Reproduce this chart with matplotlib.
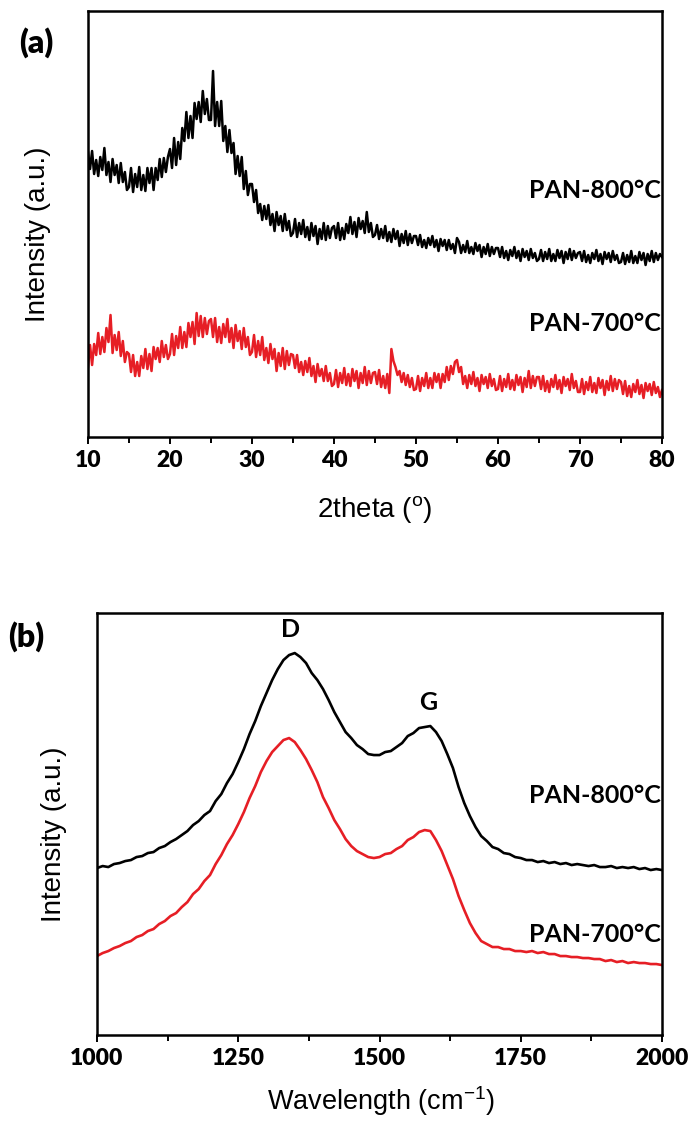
import matplotlib
matplotlib.use("Agg")  # no display available

import numpy as np
import matplotlib.pyplot as plt

plt.rcParams["mathtext.fontset"] = "custom"
plt.rcParams["mathtext.rm"] = "Liberation Sans"
plt.rcParams["mathtext.it"] = "Liberation Sans:italic"

BOLD_FONT = ["Lato", "DejaVu Sans"]
LABEL_FONT = ["Liberation Sans", "DejaVu Sans"]
BLACK = "#000000"
RED = "#e61e25"

# XRD scans, 2theta 10-80 deg in 0.25 deg steps (intensity in a.u.)
xrd_2theta = np.arange(10.0, 80.001, 0.25)
xrd_pan800 = [
    285, 268, 286, 263, 277, 261, 280, 267, 289, 262, 275, 255, 278, 262, 272, 254, 274, 255, 265, 247,
    250, 269, 245, 263, 250, 270, 247, 262, 246, 269, 254, 269, 247, 269, 257, 278, 260, 279, 265, 280,
    288, 269, 299, 272, 295, 278, 309, 296, 325, 299, 321, 299, 334, 318, 335, 315, 346, 323, 338, 317,
    317, 366, 311, 335, 311, 336, 296, 311, 285, 307, 284, 294, 263, 281, 261, 280, 248, 266, 242, 253,
    253, 235, 247, 224, 233, 217, 231, 218, 232, 212, 223, 206, 225, 212, 221, 206, 223, 207, 216, 201,
    204, 218, 200, 214, 203, 217, 200, 210, 197, 214, 201, 211, 193, 208, 198, 214, 197, 211, 199, 209,
    211, 199, 214, 197, 209, 198, 213, 204, 220, 203, 215, 200, 219, 208, 216, 204, 225, 205, 214, 200,
    202, 212, 198, 208, 199, 211, 196, 205, 195, 208, 198, 206, 191, 203, 194, 206, 192, 203, 194, 201,
    201, 192, 202, 190, 197, 189, 199, 192, 201, 190, 197, 186, 198, 191, 197, 187, 197, 188, 193, 184,
    199, 195, 184, 192, 185, 196, 184, 190, 183, 194, 186, 192, 180, 190, 183, 193, 181, 190, 183, 189,
    189, 180, 190, 179, 186, 177, 187, 181, 190, 179, 186, 176, 188, 180, 186, 177, 188, 179, 184, 176,
    178, 187, 176, 185, 178, 188, 176, 183, 176, 187, 179, 186, 174, 185, 178, 188, 177, 186, 179, 184,
    185, 176, 186, 175, 182, 174, 184, 178, 187, 176, 183, 173, 185, 178, 184, 175, 186, 177, 182, 174,
    175, 184, 173, 182, 175, 186, 174, 181, 174, 185, 177, 184, 172, 183, 176, 186, 175, 184, 177, 183,
    180,
]
xrd_pan700 = [
    70, 92, 72, 93, 82, 104, 83, 100, 85, 109, 95, 122, 84, 102, 87, 105, 81, 96, 75, 85,
    83, 65, 82, 61, 75, 61, 81, 69, 88, 68, 83, 66, 90, 78, 89, 75, 96, 80, 92, 78,
    83, 103, 82, 101, 89, 110, 89, 105, 90, 114, 100, 115, 93, 124, 101, 121, 100, 119, 103, 116,
    118, 100, 119, 95, 110, 94, 113, 100, 118, 95, 109, 89, 112, 96, 106, 88, 109, 90, 100, 82,
    85, 102, 80, 96, 82, 100, 77, 89, 74, 93, 78, 88, 66, 84, 71, 89, 68, 86, 72, 83,
    82, 69, 82, 65, 75, 62, 76, 65, 79, 61, 71, 55, 73, 61, 68, 56, 71, 56, 64, 51,
    53, 67, 50, 64, 54, 69, 52, 63, 51, 68, 56, 66, 49, 64, 54, 70, 52, 66, 54, 64,
    65, 53, 67, 50, 61, 49, 63, 44, 88, 76, 70, 62, 66, 55, 64, 52, 62, 50, 59, 47,
    48, 61, 46, 59, 51, 64, 49, 59, 49, 64, 55, 63, 49, 63, 55, 70, 57, 71, 63, 75,
    77, 65, 70, 53, 61, 49, 62, 53, 65, 51, 59, 46, 62, 53, 60, 49, 63, 51, 58, 47,
    48, 61, 46, 58, 50, 63, 48, 57, 47, 62, 52, 60, 45, 59, 50, 66, 49, 61, 51, 60,
    60, 48, 61, 46, 56, 45, 58, 50, 62, 48, 57, 44, 60, 51, 58, 47, 63, 49, 56, 45,
    45, 58, 43, 55, 47, 60, 45, 54, 44, 59, 49, 57, 42, 56, 47, 61, 46, 58, 48, 57,
    55, 43, 56, 41, 51, 40, 53, 45, 57, 43, 52, 39, 54, 46, 53, 42, 55, 44, 50, 40,
    47,
]

# Raman spectra, 1000-2000 cm-1 in 10 cm-1 steps (intensity in a.u.)
raman_shift = np.arange(1000, 2001, 10)
raman_pan800 = [
    167, 169, 168, 171, 172, 174, 175, 178, 179, 182,
    183, 187, 189, 193, 196, 200, 204, 210, 214, 220,
    224, 234, 241, 252, 261, 273, 286, 301, 314, 329,
    342, 355, 366, 375, 380, 382, 378, 372, 362, 355,
    346, 335, 323, 313, 303, 297, 290, 286, 281, 280,
    280, 283, 284, 288, 292, 299, 302, 307, 308, 309,
    303, 294, 281, 267, 248, 232, 219, 208, 199, 194,
    188, 186, 182, 181, 178, 177, 175, 175, 173, 174,
    172, 173, 171, 172, 170, 171, 170, 169, 170, 168,
    168, 169, 167, 168, 167, 168, 166, 167, 165, 166,
    165,
]
raman_pan700 = [
    79, 82, 84, 87, 89, 92, 94, 98, 100, 104,
    106, 111, 114, 119, 122, 128, 133, 141, 146, 154,
    160, 171, 180, 191, 200, 211, 223, 237, 249, 263,
    274, 283, 289, 295, 297, 293, 285, 276, 265, 253,
    238, 227, 215, 206, 196, 189, 184, 181, 178, 177,
    178, 181, 182, 186, 189, 195, 198, 203, 205, 204,
    195, 184, 170, 156, 139, 125, 112, 102, 94, 91,
    88, 88, 86, 86, 84, 84, 83, 84, 82, 83,
    81, 81, 79, 79, 78, 78, 77, 77, 76, 76,
    74, 75, 73, 74, 72, 73, 72, 72, 71, 71,
    70,
]

xrd_major = [10, 20, 30, 40, 50, 60, 70, 80]
xrd_minor = [15, 25, 35, 45, 55, 65, 75]
raman_major = [1000, 1250, 1500, 1750, 2000]
raman_minor = [1125, 1375, 1625, 1875]

# band labels (position in cm-1, height in a.u.)
band_names = ["D", "G"]
band_pos = [1343, 1586]
band_height = [406, 333]


def style_axes(ax, xlim, ylim, major, minor):
    ax.set_xlim(*xlim)
    ax.set_ylim(*ylim)
    ax.set_yticks([])
    ax.set_xticks(major)
    ax.set_xticks(minor, minor=True)
    ax.set_xticklabels([str(v) for v in major], fontfamily=BOLD_FONT,
                       fontweight="heavy", fontsize=16.5)
    ax.tick_params(axis="x", which="major", direction="out", length=5,
                   width=1.4, pad=4)
    ax.tick_params(axis="x", which="minor", direction="out", length=4,
                   width=1.4)
    for sp in ax.spines.values():
        sp.set_linewidth(1.8)


def curve_label(ax, x, y, text):
    ax.text(x, y, text, ha="right", va="center", fontsize=18,
            fontweight="bold", family=BOLD_FONT)


def main():
    fig = plt.figure(figsize=(6.9, 11.22), dpi=100)

    # (a) XRD
    ax_a = fig.add_axes([0.1275, 0.6105, 0.8319, 0.3797])
    ax_a.plot(xrd_2theta, xrd_pan800, color=BLACK, lw=1.8)
    ax_a.plot(xrd_2theta, xrd_pan700, color=RED, lw=1.8)
    style_axes(ax_a, (10, 80), (0, 426), xrd_major, xrd_minor)
    ax_a.set_xlabel(r"2theta ($^{\mathrm{o}}$)", fontsize=20,
                    family=LABEL_FONT, va="center")
    ax_a.xaxis.set_label_coords(0.50, -0.171)
    ax_a.set_ylabel("Intensity (a.u.)", fontsize=20, family=LABEL_FONT,
                    va="center")
    ax_a.yaxis.set_label_coords(-0.087, 0.477)
    curve_label(ax_a, 79.9, 247, "PAN-800°C")
    curve_label(ax_a, 79.9, 114, "PAN-700°C")

    # (b) Raman
    ax_b = fig.add_axes([0.1406, 0.0775, 0.8188, 0.3761])
    ax_b.plot(raman_shift, raman_pan800, color=BLACK, lw=1.9)
    ax_b.plot(raman_shift, raman_pan700, color=RED, lw=1.9)
    style_axes(ax_b, (1000, 2000), (0, 422), raman_major, raman_minor)
    ax_b.set_xlabel(r"Wavelength (cm$^{-1}$)", fontsize=19.5,
                    family=LABEL_FONT, va="center")
    ax_b.xaxis.set_label_coords(0.502, -0.156)
    ax_b.set_ylabel("Intensity (a.u.)", fontsize=20, family=LABEL_FONT,
                    va="center")
    ax_b.yaxis.set_label_coords(-0.076, 0.476)
    curve_label(ax_b, 1998, 240, "PAN-800°C")
    curve_label(ax_b, 1998, 101, "PAN-700°C")
    for name, pos, h in zip(band_names, band_pos, band_height):
        ax_b.text(pos, h, name, ha="center", va="center", fontsize=18,
                  fontweight="bold", family=BOLD_FONT)

    # panel letters
    fig.text(0.052, 0.9617, "(a)", ha="center", va="center", fontsize=23,
             fontweight="heavy", family=BOLD_FONT)
    fig.text(0.038, 0.4323, "(b)", ha="center", va="center", fontsize=23,
             fontweight="heavy", family=BOLD_FONT)

    fig.savefig("out.png", dpi=100)
    plt.close(fig)


if __name__ == "__main__":
    main()
